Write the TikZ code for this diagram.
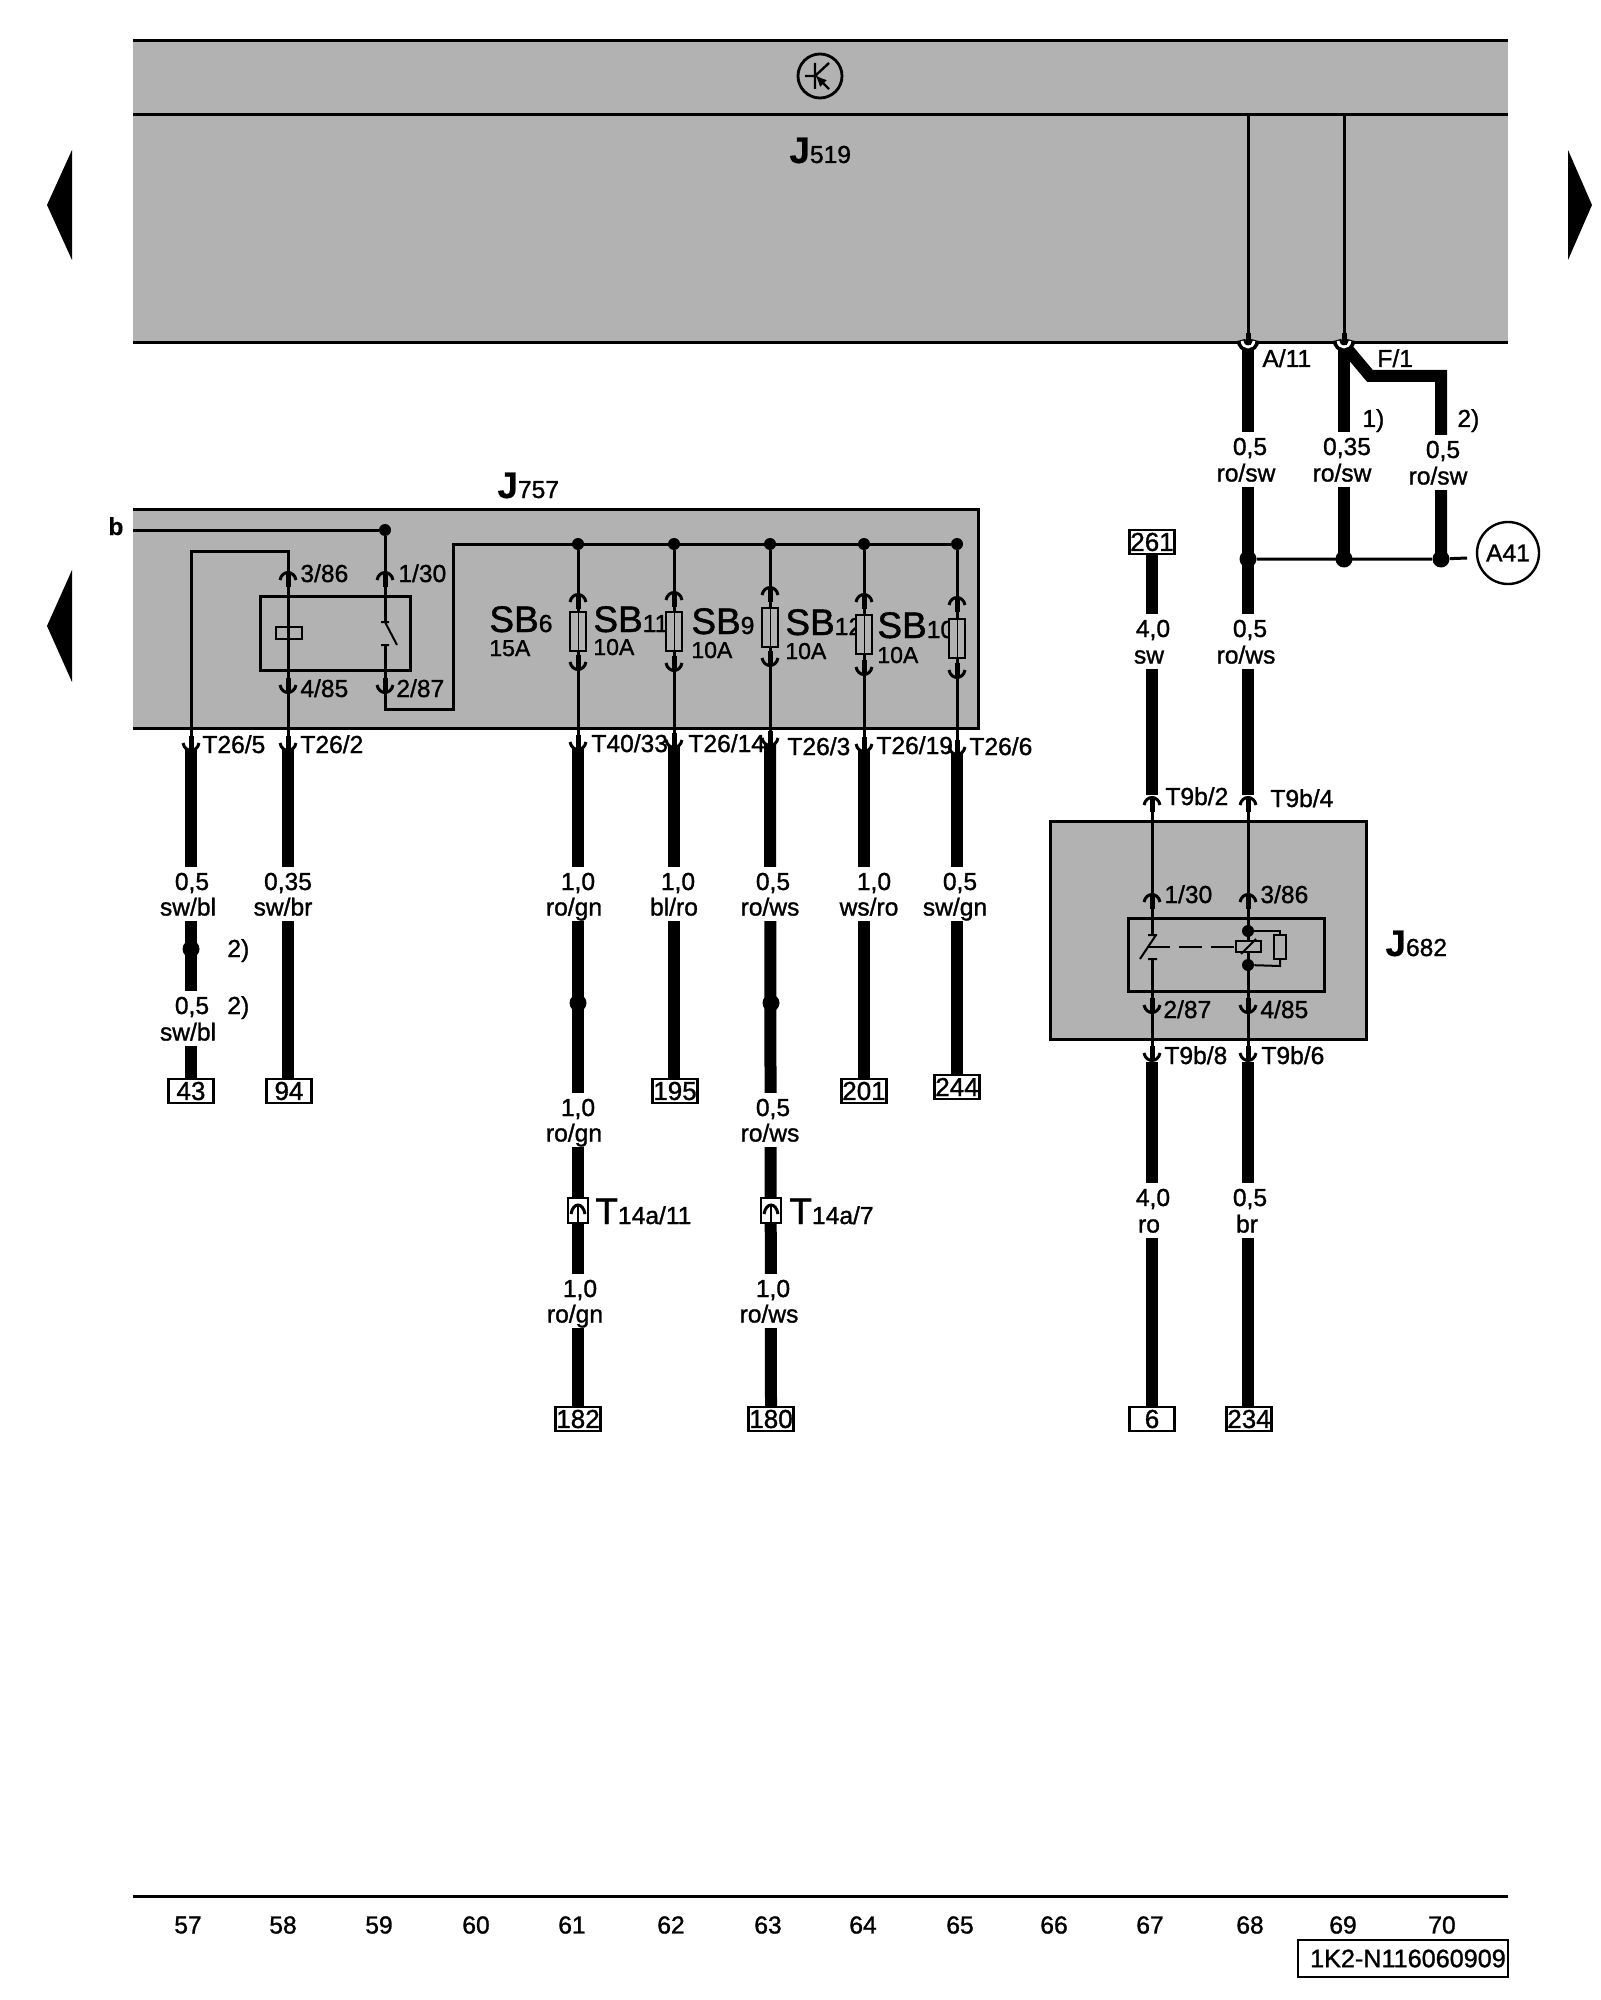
\documentclass[tikz,border=0pt]{standalone}
\usepackage{fontspec}
\usetikzlibrary{arrows.meta}
\setmainfont[FakeBold=1.2]{Liberation Sans}
\newfontfamily\boldf[FakeBold=0.4]{Liberation Sans Bold}
\definecolor{panel}{gray}{0.70}
\newcommand{\lab}{\fontsize{12.3pt}{13pt}\selectfont}
\newcommand{\bigf}{\fontsize{18.5pt}{19pt}\selectfont}
\newcommand{\pinT}[2]{%
  \draw[arcl] (#1-8,#2+5) .. controls (#1-6,#2-5) and (#1+6,#2-5) .. (#1+8,#2+5);
  \draw[pinl] (#1,#2-1) -- (#1,#2+12);}
\newcommand{\pinB}[2]{%
  \draw[arcl] (#1-8,#2-5) .. controls (#1-6,#2+5) and (#1+6,#2+5) .. (#1+8,#2-5);
  \draw[pinl] (#1,#2+1) -- (#1,#2-12);}
\newcommand{\pinW}[1]{%
  \draw[line width=4.5pt,black] (#1-7,340) .. controls (#1-6,350) and (#1+6,350) .. (#1+7,340);
  \draw[line width=1.4pt,white] (#1-6,341) .. controls (#1-5,349) and (#1+5,349) .. (#1+6,341);
  \draw[pinl] (#1,345) -- (#1,333);}
\tikzset{
  x=0.5pt,y=-0.5pt,
  thin wire/.style={line width=1.5pt,black},
  heavy/.style={line width=6pt,black},
  arcl/.style={line width=1.5pt,black},
  pinl/.style={line width=2.5pt,black},
  pbox/.style={fill=panel,draw=black,line width=1.5pt},
  txt/.style={inner sep=0pt,anchor=base west,font=\lab,text=black},
  wl/.style={inner xsep=0pt,inner ysep=0pt,fill=white,font=\lab,text height=11.5pt,text depth=3.5pt,text=black},
  wm/.style={inner xsep=0pt,inner ysep=0pt,fill=white,font=\lab,text height=10pt,text depth=2.5pt,text=black},
  dot/.style={circle,fill=black,inner sep=0pt,minimum size=6pt},
  bigdot/.style={circle,fill=black,inner sep=0pt,minimum size=8.5pt},
  refbox/.style={draw=black,line width=1.2pt,fill=white,inner sep=0pt,minimum width=22.5pt,minimum height=12pt,font=\fontsize{13pt}{13pt}\selectfont,text=black},
  fuse/.style={draw=black,line width=1pt,fill=panel,inner sep=0pt,minimum width=8pt,minimum height=19.5pt},
  tri/.style={fill=black,draw=none},
  sbname/.style={inner sep=0pt,anchor=base west,text=black},
}
\begin{document}
\begin{tikzpicture}
\useasboundingbox (0,0) rectangle (1600,2000);
\fill[white] (0,0) rectangle (1600,2000);
% control unit J519
\fill[panel] (133,41) rectangle (1508,343);
\draw[thin wire] (133,41) -- (1508,41);
\draw[thin wire] (133,115) -- (1508,115);
\draw[thin wire] (133,343) -- (1508,343);
\draw[line width=1.4pt] (820,76) circle (22);
\draw[line width=1.2pt] (815,63) -- (815,89) (805,76) -- (815,76) (815,76) -- (829,63);
\draw[line width=1.2pt,-{Latex[length=6pt,width=5pt]}] (829,89) -- (815,75);
\node[inner sep=0pt,anchor=base west] (j519) at (789,163) {{\boldf\bigf J}\lab 519};
% side triangles
\fill[tri] (47,205) -- (72,150) -- (72,260) -- cycle;
\fill[tri] (47,626) -- (72,570) -- (72,682) -- cycle;
\fill[tri] (1592,205) -- (1568,150) -- (1568,260) -- cycle;
% J757
\fill[panel] (133,509) rectangle (978,728);
\draw[thin wire] (133,509) -- (978,509) -- (978,728) -- (133,728);
\node[inner sep=0pt,anchor=base west] (j757) at (497,498) {{\boldf\bigf J}\lab 757};
% J682
\node[pbox,anchor=north west,minimum width=158pt,minimum height=109pt,inner sep=0pt] (j682box) at (1049,820) {};
\node[inner sep=0pt,anchor=base west] (j682) at (1385,956) {{\boldf\bigf J}\lab 682};
% inner relay boxes
\draw[thin wire] (260,596) rectangle (410,670);
\draw[thin wire] (1128,918) rectangle (1324,991);
% points
\foreach \n/\x/\y in {bfree/133/530,a41end/1467/558}{\coordinate (\n) at (\x,\y);}
\node[dot] (d1) at (385,530) {};
\node[dot] (s0) at (578,544) {};
\node[dot] (s1) at (674,544) {};
\node[dot] (s2) at (770,544) {};
\node[dot] (s3) at (864,544) {};
\node[dot] (s4) at (957,544) {};
\coordinate (c1) at (191,551); \coordinate (c2) at (288,551);
\coordinate (r1) at (385,709); \coordinate (r2) at (453,709); \coordinate (r3) at (453,544);
\coordinate (u1) at (1248,115); \coordinate (u2) at (1344,115);
\coordinate (p1) at (1248,345); \coordinate (p2) at (1344,345);
% thin wires
\draw[thin wire] (bfree) -- (d1);
\draw[thin wire] (191,745) -- (c1) -- (c2) -- (288,745);
\draw[thin wire] (d1) -- (385,622);
\draw[thin wire] (385,645) -- (r1) -- (r2) -- (r3) -- (s4);
\draw[thin wire] (s0) -- (578,745);
\draw[thin wire] (s1) -- (674,745);
\draw[thin wire] (s2) -- (770,745);
\draw[thin wire] (s3) -- (864,745);
\draw[thin wire] (s4) -- (957,745);
\draw[thin wire] (u1) -- (p1);
\draw[thin wire] (u2) -- (p2);
% labels under connector pins
\node[txt] (l386) at (300,582) {3/86};
\node[txt] (l130) at (398,582) {1/30};
\node[txt] (l485) at (300,697) {4/85};
\node[txt] (l287) at (396,697) {2/87};
\node[txt] (t265) at (202,753) {T26/5};
\node[txt] (t262) at (300,753) {T26/2};
\node[txt] (t4033) at (591,752) {T40/33};
\node[txt] (t2614) at (688,752) {T26/14};
\node[txt] (t263) at (787,755) {T26/3};
\node[txt] (t2619) at (876,754) {T26/19};
\node[txt] (t266) at (969,755) {T26/6};
\node[txt] (lb) at (108,535) {\boldf b};
% SB labels
\node[sbname] (sb6) at (489,632) {\bigf SB\lab 6};
\node[txt] (a6) at (489,656) {\fontsize{11.5pt}{12pt}\selectfont 15A};
\node[sbname] (sb11) at (593,632) {\bigf SB\lab 11};
\node[txt] (a11) at (593,655) {\fontsize{11.5pt}{12pt}\selectfont 10A};
\node[sbname] (sb9) at (691,634) {\bigf SB\lab 9};
\node[txt] (a9) at (691,658) {\fontsize{11.5pt}{12pt}\selectfont 10A};
\node[sbname] (sb12) at (785,635) {\bigf SB\lab 12};
\node[txt] (a12) at (785,659) {\fontsize{11.5pt}{12pt}\selectfont 10A};
\node[sbname] (sb10) at (877,638) {\bigf SB\lab 10};
\node[txt] (a10) at (877,663) {\fontsize{11.5pt}{12pt}\selectfont 10A};
% fuses
\node[fuse] (f0) at (578,631) {};
\node[fuse] (f1) at (674,631) {};
\node[fuse] (f2) at (770,627) {};
\node[fuse] (f3) at (864,634) {};
\node[fuse] (f4) at (957,638) {};
\draw[line width=0.5pt] (578,612) -- (578,651) (674,612) -- (674,651) (770,608) -- (770,646) (864,615) -- (864,654) (957,619) -- (957,657);
% relay J757
\draw[line width=1.2pt,fill=panel] (276,627) rectangle (302,639);
\draw[thin wire] (288,627) -- (288,639);
\draw[line width=1pt] (381,622) -- (389,622) (385,622) -- (397,645) (381,645) -- (389,645);
% connector pins J757
\pinT{288}{575} \pinT{385}{575} \pinB{288}{690} \pinB{385}{690}
\pinT{578}{597} \pinT{674}{595} \pinT{770}{590} \pinT{864}{597} \pinT{957}{600}
\pinB{578}{667} \pinB{674}{668} \pinB{770}{663} \pinB{864}{672} \pinB{957}{675}
% connector anchors of heavy wires
\coordinate (h1) at (191,750); \coordinate (h2) at (288,750); \coordinate (h3) at (578,748);
\coordinate (h4) at (674,746); \coordinate (h5) at (770,744); \coordinate (h6) at (864,750); \coordinate (h7) at (957,753);
\coordinate (k1) at (1152,795); \coordinate (k2) at (1248,795);
\coordinate (k3) at (1152,1062); \coordinate (k4) at (1248,1062);
\coordinate (ep) at (1370,376); \coordinate (eq) at (1441,376);
\coordinate (e3) at (1441,558);
\coordinate (e43) at (191,1079); \coordinate (e94) at (288,1079); \coordinate (e182) at (578,1406);
\coordinate (e195) at (674,1079); \coordinate (e180) at (771,1406); \coordinate (e201) at (864,1079);
\coordinate (e244) at (957,1075); \coordinate (e261) at (1152,554); \coordinate (e6) at (1152,1407);
\coordinate (e234) at (1248,1407); \coordinate (e2) at (1344,558);
% heavy wires
\draw[heavy] (h1) -- (e43);
\draw[heavy] (h2) -- (e94);
\draw[heavy] (h3) -- (e182);
\draw[heavy] (h4) -- (e195);
\draw[heavy] (h5) -- (e180);
\draw[heavy] (h6) -- (e201);
\draw[heavy] (h7) -- (e244);
\draw[heavy] (e261) -- (k1);
\draw[heavy] (p1) -- (k2);
\draw[heavy] (k3) -- (e6);
\draw[heavy] (k4) -- (e234);
\draw[heavy] (p2) -- (e2);
\draw[heavy,line join=miter] (p2) -- (ep) -- (eq) -- (e3);
% reference boxes
\node[refbox] (b43) at (191,1091) {43};
\node[refbox] (b94) at (289,1091) {94};
\node[refbox] (b195) at (675,1091) {195};
\node[refbox] (b201) at (864,1091) {201};
\node[refbox] (b244) at (957,1087) {244};
\node[refbox] (b182) at (578,1419) {182};
\node[refbox] (b180) at (771,1419) {180};
\node[refbox] (b261) at (1152,542) {261};
\node[refbox] (b6) at (1152,1419) {6};
\node[refbox] (b234) at (1249,1419) {234};
% A41 bus
\node[bigdot] (a1) at (1248,559) {};
\node[bigdot] (a2) at (1344,559) {};
\node[bigdot] (a3) at (1441,559) {};
\draw[thin wire] (a1) -- (a3) -- (a41end);
\node[draw=black,line width=1.2pt,circle,minimum size=31pt,inner sep=0pt,font=\lab,fill=white] (a41) at (1508,553) {A41};
% splice dots
\node[bigdot] (sp1) at (191,949) {};
\node[bigdot] (sp2) at (578,1003) {};
\node[bigdot] (sp3) at (771,1003) {};
% wire labels
\node[wl] (w01) at (192,882) {0,5}; \node[wm] (w02) at (188,908) {sw/bl};
\node[wl] (w03) at (192,1006) {0,5}; \node[wm] (w04) at (188,1033) {sw/bl};
\node[wl] (w05) at (288,882) {0,35}; \node[wm] (w06) at (283,908) {sw/br};
\node[wl] (w07) at (578,882) {1,0}; \node[wm] (w08) at (574,908) {ro/gn};
\node[wl] (w09) at (578,1108) {1,0}; \node[wm] (w10) at (574,1134) {ro/gn};
\node[wl] (w11) at (580,1289) {1,0}; \node[wm] (w12) at (575,1315) {ro/gn};
\node[wl] (w13) at (678,882) {1,0}; \node[wm] (w14) at (674,908) {bl/ro};
\node[wl] (w15) at (773,882) {0,5}; \node[wm] (w16) at (770,908) {ro/ws};
\node[wl] (w17) at (773,1108) {0,5}; \node[wm] (w18) at (770,1134) {ro/ws};
\node[wl] (w19) at (773,1289) {1,0}; \node[wm] (w20) at (769,1315) {ro/ws};
\node[wl] (w21) at (874,882) {1,0}; \node[wm] (w22) at (869,908) {ws/ro};
\node[wl] (w23) at (960,882) {0,5}; \node[wm] (w24) at (955,908) {sw/gn};
\node[wl] (w25) at (1153,629) {4,0}; \node[wm] (w26) at (1149,656) {sw};
\node[wl] (w27) at (1250,629) {0,5}; \node[wm] (w28) at (1246,656) {ro/ws};
\node[wl] (w29) at (1153,1198) {4,0}; \node[wm] (w30) at (1149,1225) {ro};
\node[wl] (w31) at (1250,1198) {0,5}; \node[wm] (w32) at (1247,1225) {br};
\node[wl] (w33) at (1250,447) {0,5}; \node[wm] (w34) at (1246,474) {ro/sw};
\node[wl] (w35) at (1347,447) {0,35}; \node[wm] (w36) at (1342,474) {ro/sw};
\node[wl] (w37) at (1443,450) {0,5}; \node[wm] (w38) at (1438,477) {ro/sw};
\node[txt] (n1) at (227,957) {2)};
\node[txt] (n2) at (227,1014) {2)};
\node[txt] (n3) at (1362,427) {1)};
\node[txt] (n4) at (1457,427) {2)};
\node[txt] (la11) at (1262,367) {A/11};
\node[txt] (lf1) at (1377,367) {F/1};
% connector pins top-right
\pinW{1248} \pinW{1344}
% T26 and T40 pins
\pinB{191}{748} \pinB{288}{748} \pinB{578}{747} \pinB{674}{745} \pinB{770}{743} \pinB{864}{749} \pinB{957}{752}
% T14a couplings
\node[draw=black,line width=1pt,fill=white,inner sep=0pt,minimum width=10pt,minimum height=12.5pt] (c14a) at (578,1210) {};
\node[draw=black,line width=1pt,fill=white,inner sep=0pt,minimum width=10pt,minimum height=12.5pt] (c14b) at (771,1210) {};
\draw[arcl] (571,1214) .. controls (573,1202) and (583,1202) .. (585,1214);
\draw[line width=0.8pt] (578,1206) -- (578,1222);
\draw[arcl] (764,1214) .. controls (766,1202) and (776,1202) .. (778,1214);
\draw[line width=0.8pt] (771,1206) -- (771,1222);
\node[sbname] (t14a) at (595,1224) {\bigf T\lab 14a/11};
\node[sbname] (t14b) at (789,1224) {\bigf T\lab 14a/7};
% J682 internals
\draw[thin wire] (1152,800) -- (1152,935);
\draw[thin wire] (1152,959) -- (1152,1058);
\draw[thin wire] (1248,800) -- (1248,1058);
\node[dot] (m1) at (1248,931) {};
\node[dot] (m2) at (1248,965) {};
\draw[line width=1pt] (1148,935) -- (1157,935) (1156,935) -- (1140,959) (1148,959) -- (1157,959);
\draw[line width=1pt,dash pattern=on 11.5pt off 4.5pt] (1147,947) -- (1236,947);
\draw[line width=1.2pt,fill=panel] (1236,941) rectangle (1261,952);
\draw[line width=1pt] (1241,954) -- (1256,939);
\draw[line width=1pt] (m1) -- (1280,931) -- (1280,935);
\draw[line width=1pt,fill=panel] (1274,935) rectangle (1286,959);
\draw[line width=1pt] (1280,959) -- (1280,966) -- (m2);
\pinT{1152}{800} \pinT{1248}{800} \pinT{1152}{897} \pinT{1248}{897}
\pinB{1152}{1010} \pinB{1248}{1010} \pinB{1152}{1058} \pinB{1248}{1058}
\node[txt] (t92) at (1165,805) {T9b/2};
\node[txt] (t94) at (1270,807) {T9b/4};
\node[txt] (q130) at (1164,903) {1/30};
\node[txt] (q386) at (1260,903) {3/86};
\node[txt] (q287) at (1163,1018) {2/87};
\node[txt] (q485) at (1260,1018) {4/85};
\node[txt] (t98) at (1164,1064) {T9b/8};
\node[txt] (t96) at (1261,1064) {T9b/6};
% footer
\draw[thin wire] (133,1896) -- (1508,1896);
\foreach \n/\x in {57/188,58/283,59/379,60/476,61/572,62/671,63/768,64/863,65/960,66/1054,67/1150,68/1250,69/1343,70/1442}{
  \node[inner sep=0pt,font=\lab] (g\n) at (\x,1925) {\n};}
\node[draw=black,line width=1.2pt,inner sep=0pt,minimum width=105pt,minimum height=18.5pt] (idbox) at (1403,1958.5) {};
\node[inner sep=0pt,anchor=east,font=\fontsize{12.6pt}{13pt}\selectfont] (idtext) at (idbox.east) [xshift=-1.5pt] {1K2-N116060909};
\end{tikzpicture}
\end{document}
